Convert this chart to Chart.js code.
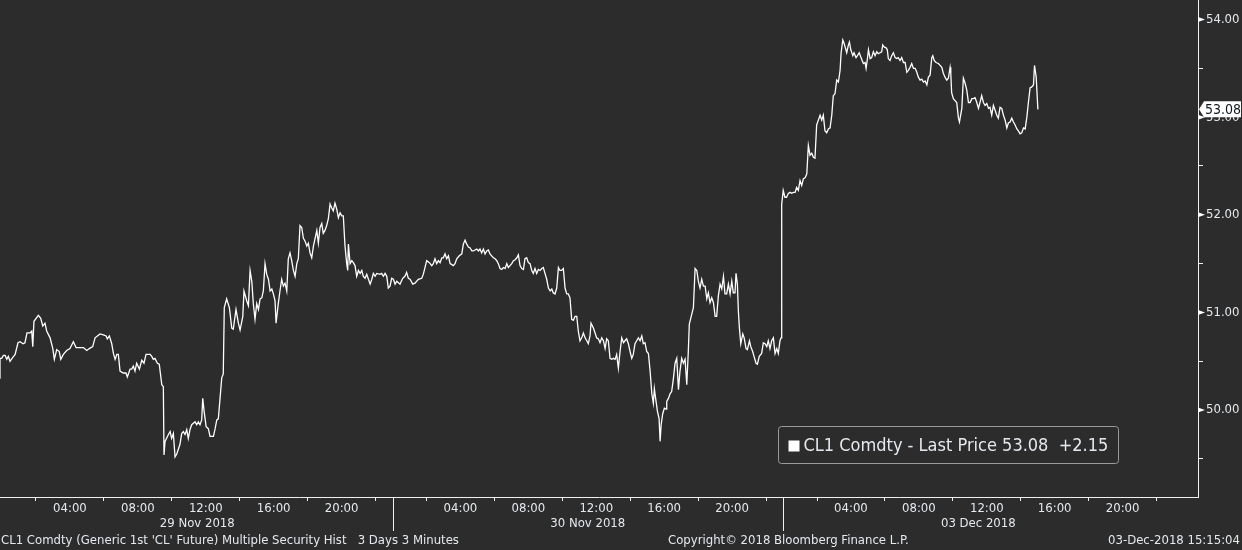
<!DOCTYPE html>
<html>
<head>
<meta charset="utf-8">
<script src="https://cdn.jsdelivr.net/npm/chart.js@4.4.1/dist/chart.umd.min.js"></script>
<style>
  html, body { margin: 0; padding: 0; background: #2c2c2c; }
</style>
</head>
<body>
<canvas id="myChart" width="1242" height="550"></canvas>
<script>
// Trading days shown; each one is 23 trading hours wide on the axis (weekend and break removed)
const dayLabels = ["29 Nov 2018", "30 Nov 2018", "03 Dec 2018"];
const hoursPerDay = 23;
const hourTicks = [2, 4, 6, 8, 10, 12, 14, 16, 18, 20, 22];
const priceTicks = [49.5, 50, 50.5, 51, 51.5, 52, 52.5, 53, 53.5, 54];
const lastPrice = 53.08;
const priceChange = "+2.15";
const seriesName = "CL1 Comdty - Last Price";

// CL1 last price, x = trading hours since 29 Nov 00:00
const hours29Nov = [-0.12,-0.12,-0.02,0.08,0.18,0.28,0.37,0.47,0.59,0.77,
  0.94,1.06,1.24,1.35,1.47,1.65,1.75,1.81,1.88,2.14,
  2.28,2.40,2.53,2.63,2.83,2.99,3.08,3.22,3.37,3.46,
  3.61,3.81,4.00,4.20,4.36,4.59,4.79,4.99,5.14,5.34,
  5.48,5.77,5.97,6.13,6.20,6.32,6.46,6.56,6.66,6.76,
  6.85,6.95,7.14,7.30,7.38,7.54,7.64,7.73,7.83,7.93,
  8.09,8.23,8.36,8.48,8.72,8.82,8.91,9.01,9.15,9.26,
  9.41,9.50,9.54,9.60,9.80,9.90,9.99,10.09,10.19,10.29,
  10.48,10.58,10.68,10.78,10.88,10.97,11.07,11.17,11.37,11.47,
  11.56,11.66,11.76,11.82,11.90,12.02,12.15,12.25,12.45,12.55,
  12.65,12.74,12.84,12.94,13.03,13.09,13.23,13.39,13.53,13.62,
  13.78,13.92,14.02,14.18,14.25,14.41,14.51,14.61,14.71,14.80,
  14.90,15.00,15.10,15.20,15.30,15.39,15.49,15.59,15.69,15.79,
  15.89,15.98,16.08,16.14,16.27,16.37,16.47,16.57,16.67,16.77,
  16.86,16.96,17.06,17.16,17.26,17.36,17.45,17.55,17.65,17.75,
  17.85,17.95,18.04,18.14,18.24,18.34,18.44,18.54,18.63,18.73,
  18.83,18.92,19.02,19.12,19.22,19.32,19.42,19.51,19.61,19.71,
  19.81,19.91,20.01,20.10,20.20,20.30,20.36,20.40,20.50,20.60,
  20.69,20.79,20.89,20.99,21.09,21.19,21.28,21.38,21.48,21.58,
  21.68,21.78,21.87,21.97,22.07,22.26,22.36,22.46,22.56,22.66,
  22.75,22.85,22.95];
const prices29Nov = [50.32,50.53,50.53,50.56,50.56,50.52,50.55,50.50,50.53,50.57,
  50.69,50.70,50.68,50.69,50.79,50.79,50.81,50.65,50.91,50.97,
  50.94,50.86,50.89,50.81,50.74,50.63,50.52,50.62,50.60,50.52,
  50.57,50.61,50.63,50.70,50.64,50.64,50.64,50.61,50.63,50.65,
  50.74,50.78,50.77,50.76,50.73,50.76,50.68,50.58,50.52,50.57,
  50.57,50.40,50.38,50.38,50.34,50.42,50.42,50.45,50.40,50.48,
  50.42,50.51,50.48,50.57,50.57,50.55,50.52,50.53,50.48,50.47,
  50.26,50.24,49.54,49.68,49.75,49.78,49.71,49.76,49.52,49.55,
  49.65,49.76,49.78,49.75,49.80,49.71,49.80,49.85,49.88,49.85,
  49.88,49.85,49.90,50.12,49.99,49.83,49.81,49.73,49.73,49.81,
  49.90,49.91,50.12,50.33,50.37,51.05,51.14,51.05,50.84,50.83,
  51.03,50.89,50.82,50.96,51.22,51.12,51.07,51.43,51.32,51.09,
  50.93,51.09,51.03,51.14,51.15,51.22,51.50,51.39,51.34,51.22,
  51.24,51.19,51.12,50.89,51.09,51.22,51.34,51.27,51.30,51.22,
  51.55,51.61,51.53,51.43,51.37,51.50,51.55,51.89,51.87,51.76,
  51.73,51.68,51.71,51.61,51.56,51.68,51.76,51.84,51.71,51.87,
  51.91,51.81,51.84,51.89,51.96,52.11,52.07,52.04,52.12,52.06,
  51.97,52.02,51.99,51.99,51.68,51.50,51.43,51.70,51.50,51.53,
  51.51,51.48,51.37,51.43,51.40,51.43,51.37,51.35,51.39,51.34,
  51.29,51.34,51.40,51.37,51.40,51.39,51.40,51.37,51.40,51.37,
  51.25,51.27,51.35];

const hours30Nov = [23.05,23.15,23.25,23.44,23.60,23.73,23.83,23.93,24.03,24.19,
  24.32,24.52,24.72,24.81,24.91,25.01,25.17,25.31,25.40,25.50,
  25.60,25.70,25.80,25.90,25.99,26.09,26.19,26.29,26.39,26.49,
  26.58,26.68,26.78,26.93,27.08,27.17,27.27,27.37,27.47,27.57,
  27.67,27.76,27.86,27.96,28.06,28.15,28.25,28.35,28.45,28.55,
  28.64,28.74,28.84,28.94,29.04,29.14,29.23,29.33,29.43,29.53,
  29.63,29.73,29.82,29.92,30.02,30.12,30.22,30.32,30.41,30.51,
  30.61,30.71,30.80,30.90,31.00,31.10,31.20,31.29,31.39,31.49,
  31.59,31.69,31.79,31.88,31.98,32.08,32.18,32.28,32.38,32.47,
  32.57,32.67,32.77,32.86,32.96,33.06,33.16,33.26,33.35,33.45,
  33.55,33.65,33.75,33.85,33.94,34.04,34.14,34.24,34.34,34.44,
  34.53,34.63,34.69,34.83,34.93,35.02,35.12,35.22,35.32,35.42,
  35.52,35.61,35.71,35.81,35.91,36.01,36.11,36.20,36.30,36.40,
  36.50,36.60,36.69,36.79,36.89,36.99,37.09,37.18,37.28,37.38,
  37.48,37.58,37.68,37.77,37.87,37.97,38.07,38.17,38.27,38.36,
  38.42,38.52,38.60,38.70,38.76,38.82,38.91,39.01,39.11,39.15,
  39.25,39.35,39.44,39.54,39.64,39.74,39.84,39.93,40.03,40.13,
  40.23,40.33,40.42,40.48,40.62,40.72,40.82,40.92,41.01,41.11,
  41.21,41.31,41.41,41.51,41.60,41.70,41.80,41.90,42.00,42.09,
  42.19,42.29,42.39,42.49,42.58,42.68,42.78,42.88,42.98,43.07,
  43.17,43.23,43.31,43.37,43.43,43.51,43.63,43.71,43.82,43.90,
  44.02,44.10,44.21,44.29,44.41,44.49,44.60,44.74,44.84,44.94,
  45.04,45.13,45.23,45.33,45.43,45.53,45.63,45.72,45.82,45.88];
const prices30Nov = [51.34,51.29,51.32,51.29,51.35,51.37,51.41,51.35,51.34,51.29,
  51.30,51.34,51.35,51.39,51.46,51.53,51.51,51.48,51.50,51.55,
  51.50,51.53,51.51,51.56,51.56,51.60,51.55,51.58,51.50,51.49,
  51.48,51.50,51.55,51.58,51.60,51.70,51.74,51.70,51.67,51.66,
  51.63,51.63,51.64,51.65,51.63,51.65,51.61,51.65,51.60,51.63,
  51.64,51.60,51.58,51.56,51.55,51.53,51.50,51.45,51.44,51.46,
  51.45,51.50,51.46,51.48,51.50,51.53,51.54,51.56,51.59,51.48,
  51.45,51.44,51.55,51.56,51.51,51.50,51.43,51.40,51.45,51.40,
  51.44,51.43,51.45,51.46,51.40,51.34,51.25,51.22,51.24,51.20,
  51.19,51.25,51.46,51.43,51.43,51.45,51.25,51.19,51.19,51.15,
  50.93,50.92,50.96,50.96,50.81,50.71,50.74,50.79,50.74,50.71,
  50.68,50.76,50.89,50.84,50.79,50.74,50.73,50.69,50.74,50.71,
  50.63,50.73,50.71,50.53,50.52,50.53,50.52,50.57,50.43,50.60,
  50.74,50.69,50.71,50.73,50.68,50.60,50.53,50.57,50.68,50.71,
  50.74,50.71,50.76,50.68,50.69,50.60,50.58,50.40,50.17,50.07,
  50.22,50.09,49.99,49.91,49.68,49.85,49.96,50.02,50.01,50.09,
  50.12,50.17,50.19,50.32,50.48,50.53,50.21,50.40,50.53,50.48,
  50.52,50.26,50.60,50.88,50.98,51.05,51.45,51.43,51.32,51.25,
  51.34,51.27,51.27,51.14,51.20,51.10,51.15,51.10,50.96,50.96,
  51.17,51.29,51.24,51.37,51.19,51.19,51.29,51.19,51.32,51.20,
  51.20,51.40,51.29,51.01,50.84,50.68,50.78,50.74,50.63,50.62,
  50.71,50.65,50.60,50.55,50.48,50.47,50.55,50.58,50.69,50.68,
  50.65,50.71,50.63,50.71,50.74,50.58,50.63,50.58,50.71,50.74];

const hours03Dec = [45.92,46.01,46.11,46.21,46.31,46.41,46.51,46.61,46.71,46.80,
  46.90,47.00,47.10,47.20,47.30,47.40,47.49,47.59,47.69,47.79,
  47.88,47.98,48.08,48.18,48.28,48.37,48.47,48.57,48.67,48.77,
  48.87,48.96,49.06,49.16,49.26,49.36,49.42,49.52,49.59,49.67,
  49.75,49.85,49.91,49.99,50.11,50.18,50.30,50.38,50.49,50.59,
  50.73,50.83,50.89,50.97,51.03,51.13,51.22,51.32,51.42,51.52,
  51.61,51.71,51.81,51.87,51.95,52.07,52.14,52.20,52.30,52.40,
  52.50,52.60,52.70,52.79,52.89,52.99,53.09,53.19,53.29,53.38,
  53.48,53.58,53.68,53.78,53.88,53.97,54.07,54.17,54.27,54.37,
  54.47,54.56,54.66,54.76,54.82,54.90,55.01,55.15,55.25,55.35,
  55.44,55.54,55.64,55.74,55.84,55.88,55.93,56.03,56.13,56.23,
  56.33,56.39,56.53,56.62,56.72,56.82,56.92,57.02,57.12,57.21,
  57.31,57.41,57.51,57.60,57.70,57.80,57.90,58.00,58.10,58.19,
  58.29,58.39,58.49,58.59,58.68,58.78,58.88,58.98,59.08,59.18,
  59.27,59.37,59.47,59.57,59.67,59.77,59.86,59.96,60.06,60.16,
  60.26,60.36,60.45,60.55,60.65,60.75,60.81,60.91,61.01];
const prices03Dec = [52.11,52.25,52.18,52.18,52.22,52.23,52.22,52.23,52.23,52.28,
  52.25,52.35,52.30,52.37,52.38,52.42,52.71,52.61,52.63,52.59,
  52.58,52.92,52.97,53.02,52.97,53.02,52.86,52.84,52.88,52.89,
  53.02,53.22,53.24,53.38,53.36,53.48,53.66,53.79,53.76,53.71,
  53.66,53.74,53.77,53.69,53.63,53.66,53.61,53.63,53.66,53.61,
  53.55,53.56,53.50,53.60,53.69,53.60,53.61,53.67,53.63,53.67,
  53.65,53.66,53.67,53.74,53.72,53.71,53.69,53.60,53.58,53.63,
  53.66,53.61,53.60,53.61,53.58,53.61,53.56,53.56,53.46,53.48,
  53.51,53.55,53.50,53.50,53.46,53.41,53.38,53.39,53.36,53.37,
  53.33,53.41,53.43,53.61,53.63,53.58,53.56,53.55,53.53,53.51,
  53.45,53.41,53.38,53.40,53.51,53.45,53.25,53.19,53.17,53.15,
  52.99,52.95,53.09,53.40,53.35,53.28,53.15,53.15,53.19,53.19,
  53.20,53.15,53.09,53.15,53.22,53.15,53.12,53.14,53.09,53.10,
  53.02,53.12,53.07,53.02,52.99,53.10,53.09,53.02,52.97,52.89,
  52.94,52.95,52.99,52.95,52.92,52.88,52.86,52.83,52.84,52.89,
  52.88,53.00,53.15,53.30,53.31,53.33,53.53,53.41,53.08];

const hours = [...hours29Nov, ...hours30Nov, ...hours03Dec];
const prices = [...prices29Nov, ...prices30Nov, ...prices03Dec];
const points = hours.map((h, i) => ({ x: h, y: prices[i] }));

const FONT = "'DejaVu Sans Condensed', 'DejaVu Sans', sans-serif";
const BG = '#2c2c2c';
const TXT = '#e4e9ee';

const bbgDecor = {
  id: 'bbgDecor',
  beforeDraw(chart) {
    const ctx = chart.ctx;
    ctx.save();
    ctx.fillStyle = BG;
    ctx.fillRect(0, 0, chart.width, chart.height);
    ctx.restore();
  },
  afterDraw(chart) {
    const { ctx, chartArea, scales: { x, y } } = chart;
    ctx.save();

    // day separators + date captions under the time ticks
    ctx.strokeStyle = '#f0f0f0';
    ctx.lineWidth = 1;
    ctx.font = '13px ' + FONT;
    ctx.fillStyle = TXT;
    ctx.textAlign = 'center';
    ctx.textBaseline = 'middle';
    dayLabels.forEach((label, d) => {
      const start = d * hoursPerDay;
      if (d > 0) {
        const px = Math.round(x.getPixelForValue(start)) + 0.5;
        ctx.beginPath();
        ctx.moveTo(px, chartArea.bottom);
        ctx.lineTo(px, chartArea.bottom + 34);
        ctx.stroke();
      }
      ctx.fillText(label, x.getPixelForValue(start + hoursPerDay / 2), chartArea.bottom + 27);
    });

    // little arrow heads on the major price ticks
    ctx.fillStyle = '#ffffff';
    priceTicks.filter(v => Number.isInteger(v)).forEach(v => {
      const py = y.getPixelForValue(v);
      ctx.beginPath();
      ctx.moveTo(chartArea.right, py - 2.5);
      ctx.lineTo(chartArea.right + 7, py);
      ctx.lineTo(chartArea.right, py + 2.5);
      ctx.closePath();
      ctx.fill();
    });

    // last price tag
    const ly = y.getPixelForValue(lastPrice);
    const lx = chartArea.right + 1;
    ctx.fillStyle = '#ffffff';
    ctx.beginPath();
    ctx.moveTo(lx, ly);
    ctx.lineTo(lx + 5, ly - 8);
    ctx.lineTo(chart.width - 1, ly - 8);
    ctx.lineTo(chart.width - 1, ly + 8);
    ctx.lineTo(lx + 5, ly + 8);
    ctx.closePath();
    ctx.fill();
    ctx.fillStyle = '#101820';
    ctx.font = '14px ' + FONT;
    ctx.textAlign = 'left';
    ctx.fillText(lastPrice.toFixed(2), lx + 6, ly + 0.5);

    // legend box
    const bx = 778.5, by = 426.5, bw = 340, bh = 37;
    ctx.strokeStyle = '#9a9a9a';
    ctx.lineWidth = 1;
    ctx.beginPath();
    ctx.roundRect(bx, by, bw, bh, 3);
    ctx.fillStyle = BG;
    ctx.fill();
    ctx.stroke();
    ctx.fillStyle = '#ffffff';
    ctx.fillRect(bx + 10, by + 14, 11, 11);
    ctx.fillStyle = TXT;
    ctx.font = '18px ' + FONT;
    ctx.textAlign = 'left';
    ctx.fillText(seriesName + ' ' + lastPrice.toFixed(2) + '  ' + priceChange, bx + 25, by + bh / 2 + 1);

    // footer
    ctx.font = '13px ' + FONT;
    ctx.fillStyle = TXT;
    ctx.textAlign = 'left';
    ctx.fillText("CL1 Comdty (Generic 1st 'CL' Future) Multiple Security Hist   3 Days 3 Minutes", 1, 541);
    ctx.fillText('Copyright\u00a9 2018 Bloomberg Finance L.P.', 668, 541);
    ctx.textAlign = 'right';
    ctx.fillText('03-Dec-2018 15:15:04', chart.width - 2, 541);

    ctx.restore();
  }
};

new Chart(document.getElementById('myChart'), {
  type: 'line',
  data: {
    datasets: [{
      label: seriesName,
      data: points,
      borderColor: '#ffffff',
      borderWidth: 1.3,
      pointRadius: 0,
      tension: 0,
      fill: false
    }]
  },
  options: {
    responsive: false,
    animation: false,
    devicePixelRatio: 1,
    layout: { padding: 0 },
    plugins: { legend: { display: false }, tooltip: { enabled: false } },
    scales: {
      x: {
        type: 'linear',
        min: -0.12,
        max: 70.44,
        afterFit: s => { s.height = 53; s.paddingLeft = 0; s.paddingRight = 0; },
        afterBuildTicks: s => {
          s.ticks = [];
          dayLabels.forEach((_, d) => hourTicks.forEach(h => s.ticks.push({ value: d * hoursPerDay + h })));
        },
        border: { display: true, color: '#f0f0f0', width: 1 },
        grid: {
          drawOnChartArea: false,
          drawTicks: true,
          tickLength: 4,
          tickColor: c => (Math.round(c.tick.value) % hoursPerDay) % 4 === 0 ? 'rgba(0,0,0,0)' : '#f0f0f0'
        },
        ticks: {
          autoSkip: false,
          maxRotation: 0,
          padding: 0,
          color: TXT,
          font: { family: FONT, size: 13 },
          callback: v => {
            const h = Math.round(v) % hoursPerDay;
            return h % 4 === 0 ? String(h).padStart(2, '0') + ':00' : '';
          }
        }
      },
      y: {
        position: 'right',
        min: 49.11,
        max: 54.20,
        afterFit: s => { s.width = 44; s.paddingTop = 0; s.paddingBottom = 0; },
        afterBuildTicks: s => { s.ticks = priceTicks.map(v => ({ value: v })); },
        border: { display: true, color: '#f0f0f0', width: 1 },
        grid: {
          drawOnChartArea: false,
          drawTicks: true,
          tickLength: 5,
          tickColor: c => Number.isInteger(c.tick.value) ? 'rgba(0,0,0,0)' : '#f0f0f0'
        },
        ticks: {
          padding: 3,
          color: TXT,
          font: { family: FONT, size: 13 },
          callback: v => Number.isInteger(v) ? v.toFixed(2) : ''
        }
      }
    }
  },
  plugins: [bbgDecor]
});
</script>
</body>
</html>
